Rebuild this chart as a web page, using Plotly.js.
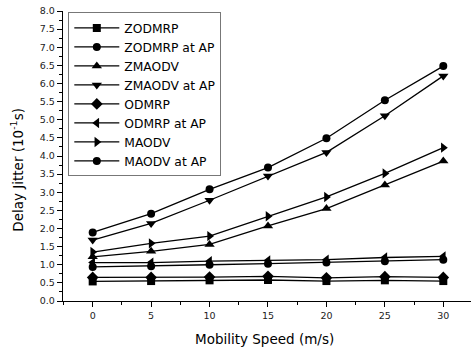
<!DOCTYPE html>
<html>
<head>
<meta charset="utf-8">
<script src="https://cdn.plot.ly/plotly-3.0.1.min.js"></script>
<style>html,body{margin:0;padding:0;background:#fff;}#chart{width:471px;height:352px;}</style>
</head>
<body>
<div id="chart"></div>
<script>
const speeds = [0, 5, 10, 15, 20, 25, 30];
const seriesNames = ["ZODMRP", "ZODMRP at AP", "ZMAODV", "ZMAODV at AP", "ODMRP", "ODMRP at AP", "MAODV", "MAODV at AP"];
const zodmrp      = [0.54, 0.55, 0.57, 0.58, 0.55, 0.57, 0.55];
const zodmrpAP    = [0.94, 0.96, 1.00, 1.03, 1.06, 1.10, 1.14];
const zmaodv      = [1.22, 1.37, 1.56, 2.07, 2.55, 3.20, 3.86];
const zmaodvAP    = [1.68, 2.14, 2.78, 3.45, 4.10, 5.11, 6.21];
const odmrp       = [0.65, 0.65, 0.66, 0.68, 0.64, 0.67, 0.65];
const odmrpAP     = [1.06, 1.06, 1.10, 1.12, 1.14, 1.20, 1.23];
const maodv       = [1.35, 1.59, 1.79, 2.34, 2.87, 3.52, 4.23];
const maodvAP     = [1.89, 2.41, 3.08, 3.68, 4.49, 5.54, 6.48];
const xTickVals = [0, 5, 10, 15, 20, 25, 30];
const yTickVals = [0, 0.5, 1, 1.5, 2, 2.5, 3, 3.5, 4, 4.5, 5, 5.5, 6, 6.5, 7, 7.5, 8];
const xTitle = "Mobility Speed (m/s)";
const yTitle = "Delay Jitter (10<sup>-1</sup>s)";

const allValues = [zodmrp, zodmrpAP, zmaodv, zmaodvAP, odmrp, odmrpAP, maodv, maodvAP];
const symbols = ["square", "circle", "triangle-up", "triangle-down", "diamond", "triangle-left", "triangle-right", "circle"];
const sizes = [8, 8, 9, 9, 9, 9, 9, 8];

const traces = allValues.map((vals, i) => ({
  type: "scatter",
  mode: "lines+markers",
  name: seriesNames[i],
  x: speeds,
  y: vals,
  line: {color: "#000", width: 1.3},
  marker: {symbol: symbols[i], size: sizes[i], color: "#000", line: {width: 0}}
}));

const font = "DejaVu Sans, Arial, sans-serif";
const layout = {
  width: 471, height: 352,
  margin: {l: 63, r: 0, t: 11, b: 51, pad: 0},
  paper_bgcolor: "#fff", plot_bgcolor: "#fff",
  font: {family: font, color: "#000", size: 9.5},
  showlegend: true,
  legend: {
    x: 0.013, y: 0.995, xanchor: "left", yanchor: "top",
    bgcolor: "#fff", bordercolor: "#777", borderwidth: 1,
    font: {family: font, size: 12.3, color: "#000"},
    itemwidth: 45
  },
  xaxis: {
    range: [-2.54, 32.37],
    tickmode: "array", tickvals: xTickVals, ticktext: xTickVals.map(String),
    ticks: "outside", ticklen: 5, tickwidth: 1, tickcolor: "#000",
    minor: {dtick: 2.5, tick0: 0, ticks: "outside", ticklen: 3, tickcolor: "#000"},
    showline: true, linecolor: "#000", linewidth: 1.3,
    showgrid: false, zeroline: false,
    tickfont: {family: font, size: 9.5, color: "#222"}
  },
  yaxis: {
    range: [0, 8],
    tickmode: "array", tickvals: yTickVals, ticktext: yTickVals.map(v => v.toFixed(1)),
    ticks: "outside", ticklen: 5, tickwidth: 1, tickcolor: "#000",
    minor: {dtick: 0.25, tick0: 0, ticks: "outside", ticklen: 3, tickcolor: "#000"},
    showline: true, linecolor: "#000", linewidth: 1.3,
    showgrid: false, zeroline: false,
    tickfont: {family: font, size: 9.5, color: "#222"}
  },
  annotations: [
    {text: xTitle, xref: "paper", yref: "paper", x: 0.494, y: -0.131, xanchor: "center", yanchor: "middle",
     showarrow: false, font: {family: font, size: 13.5, color: "#000"}},
    {text: yTitle, xref: "paper", yref: "paper", x: -0.1115, y: 0.451, xanchor: "center", yanchor: "middle",
     textangle: -90, showarrow: false, font: {family: font, size: 13.5, color: "#000"}}
  ]
};

Plotly.newPlot("chart", traces, layout, {displayModeBar: false, staticPlot: true});
</script>
</body>
</html>
